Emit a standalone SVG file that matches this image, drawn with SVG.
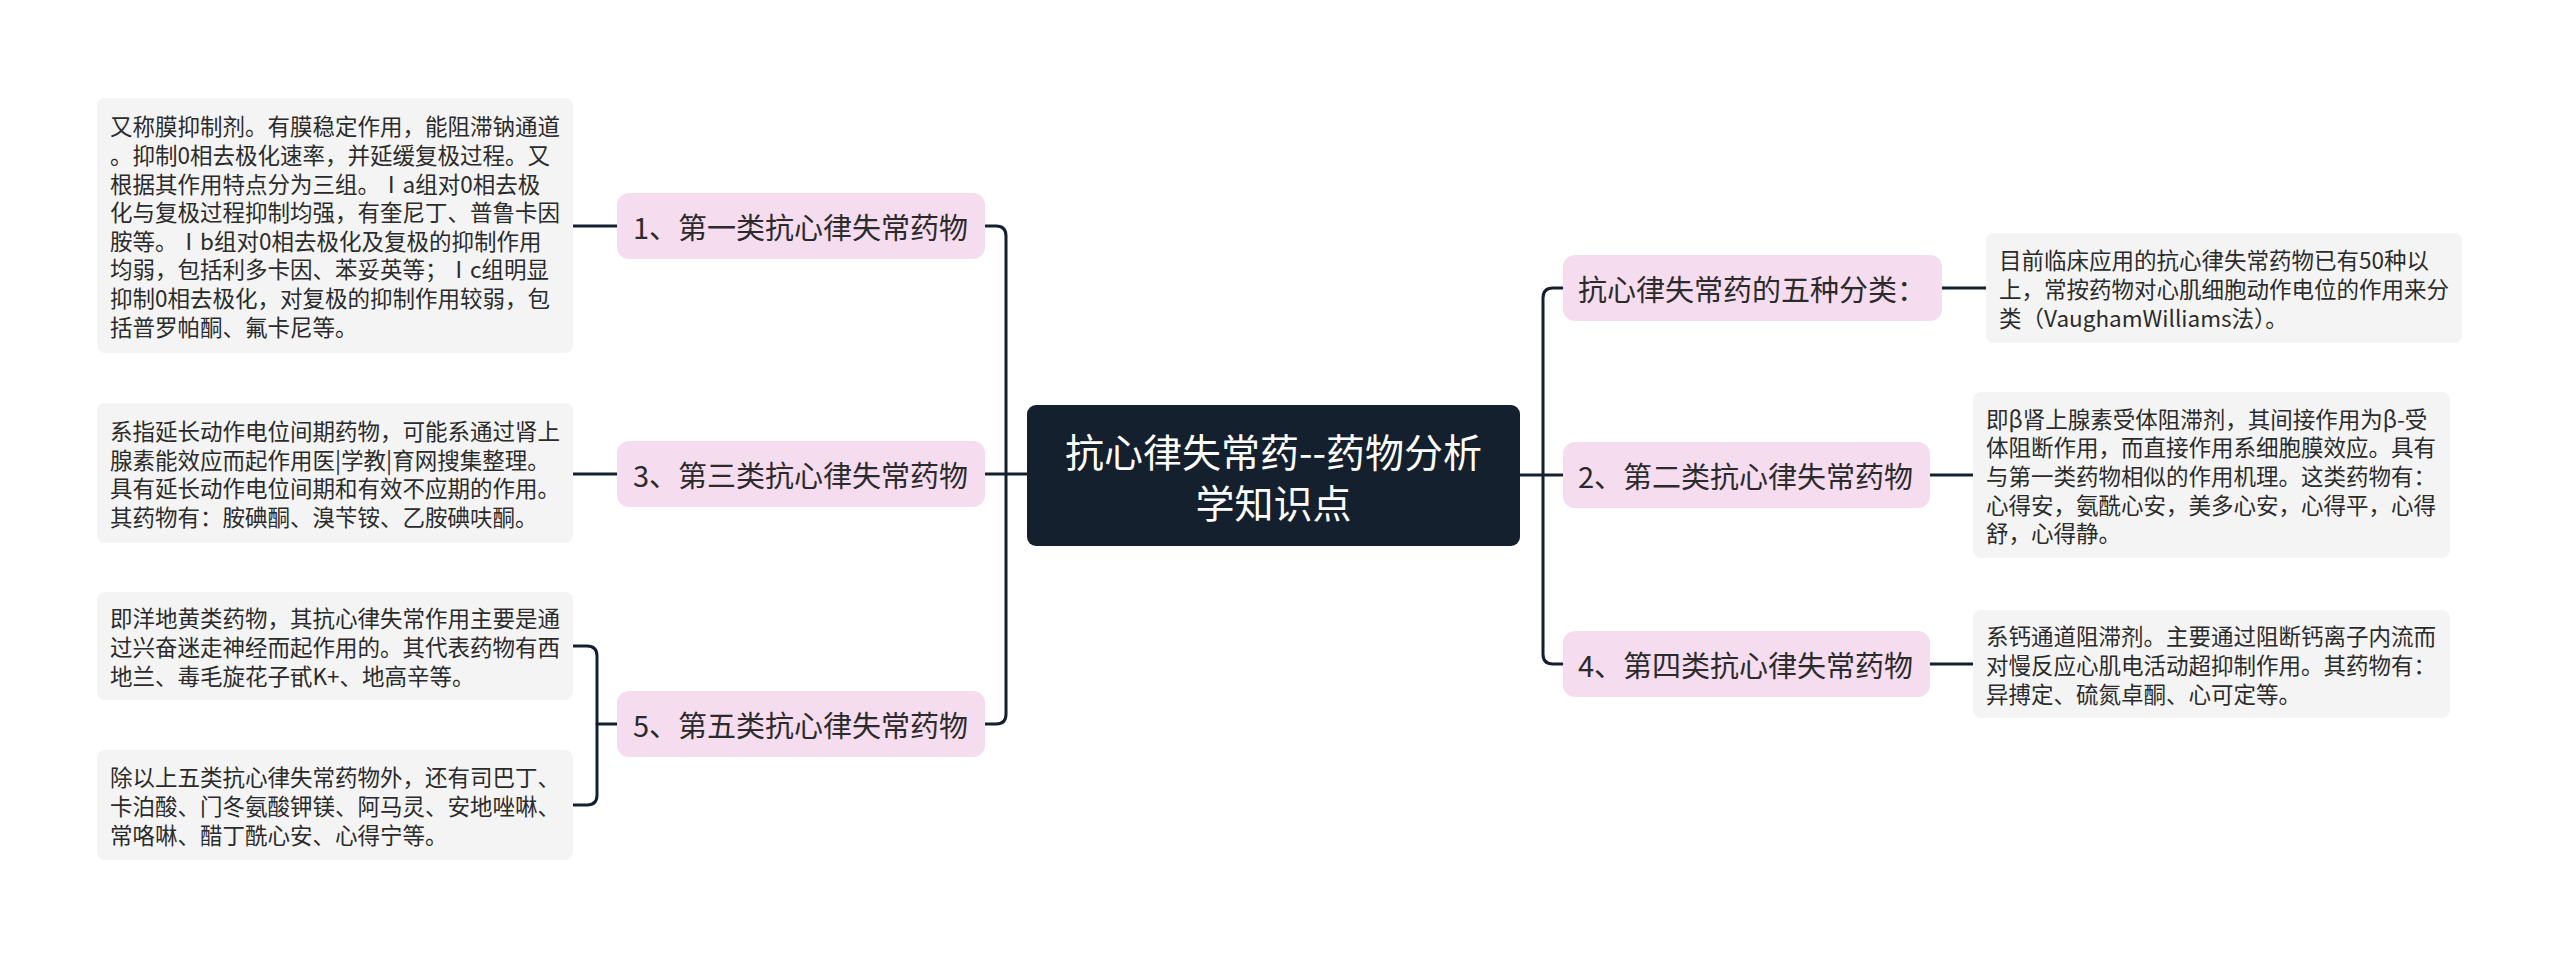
<svg xmlns="http://www.w3.org/2000/svg" width="2560" height="958" viewBox="0 0 2560 958">
<style>
.bg{fill:#ffffff}
.lnk{fill:none;stroke:#15202e;stroke-width:3;stroke-linecap:round}
.root rect{fill:#15202e}
.root text{fill:#ffffff;font-family:"Noto Sans CJK SC","Noto Sans",sans-serif;font-size:39px;text-anchor:middle;dominant-baseline:central}
.topic rect{fill:#f6dcef}
.topic text{fill:#2b2b2b;font-family:"Noto Sans CJK SC","Noto Sans",sans-serif;font-size:29px;dominant-baseline:central}
.leaf rect{fill:#f4f4f4}
.leaf text{fill:#2b2b2b;font-family:"Noto Sans CJK SC","Noto Sans",sans-serif;font-size:22.5px;dominant-baseline:central}
</style>
<rect class="bg" x="0" y="0" width="2560" height="958"/>
<g id="connectors">
<path class="lnk" d="M1027,474 H985"/>
<path class="lnk" d="M985,226 H996 Q1006,226 1006,236 V714 Q1006,724 996,724 H985"/>
<path class="lnk" d="M1520,475 H1563"/>
<path class="lnk" d="M1563,288 H1553 Q1543,288 1543,298 V654 Q1543,664 1553,664 H1563"/>
<path class="lnk" d="M617,226 H573"/>
<path class="lnk" d="M617,474 H573"/>
<path class="lnk" d="M617,724 H597"/>
<path class="lnk" d="M573,646 H587 Q597,646 597,656 V795 Q597,805 587,805 H573"/>
<path class="lnk" d="M1942,288 H1986"/>
<path class="lnk" d="M1930,475 H1973"/>
<path class="lnk" d="M1930,664 H1973"/>
</g>
<g id="root" class="root">
<rect x="1027" y="405" width="493" height="141" rx="9"/>
<text x="1273.5" y="450">抗心律失常药--药物分析</text>
<text x="1273.5" y="501">学知识点</text>
</g>
<g id="t1" class="topic">
<rect x="617" y="193" width="368" height="66" rx="12"/>
<text x="633" y="226">1、第一类抗心律失常药物</text>
</g>
<g id="t3" class="topic">
<rect x="617" y="441" width="368" height="66" rx="12"/>
<text x="633" y="474">3、第三类抗心律失常药物</text>
</g>
<g id="t5" class="topic">
<rect x="617" y="691" width="368" height="66" rx="12"/>
<text x="633" y="724">5、第五类抗心律失常药物</text>
</g>
<g id="t0" class="topic">
<rect x="1563" y="255" width="379" height="66" rx="12"/>
<text x="1578" y="288">抗心律失常药的五种分类：</text>
</g>
<g id="t2" class="topic">
<rect x="1563" y="442" width="367" height="66" rx="12"/>
<text x="1578" y="475">2、第二类抗心律失常药物</text>
</g>
<g id="t4" class="topic">
<rect x="1563" y="631" width="367" height="66" rx="12"/>
<text x="1578" y="664">4、第四类抗心律失常药物</text>
</g>
<g id="leaf1" class="leaf">
<rect x="97" y="98" width="476" height="255" rx="8"/>
<text x="110" y="125.4">又称膜抑制剂。有膜稳定作用，能阻滞钠通道</text>
<text x="110" y="154">。抑制0相去极化速率，并延缓复极过程。又</text>
<text x="110" y="182.6">根据其作用特点分为三组。Ⅰa组对0相去极</text>
<text x="110" y="211.2">化与复极过程抑制均强，有奎尼丁、普鲁卡因</text>
<text x="110" y="239.8">胺等。Ⅰb组对0相去极化及复极的抑制作用</text>
<text x="110" y="268.4">均弱，包括利多卡因、苯妥英等；Ⅰc组明显</text>
<text x="110" y="297">抑制0相去极化，对复极的抑制作用较弱，包</text>
<text x="110" y="325.6">括普罗帕酮、氟卡尼等。</text>
</g>
<g id="leaf3" class="leaf">
<rect x="97" y="403" width="476" height="140" rx="8"/>
<text x="110" y="430">系指延长动作电位间期药物，可能系通过肾上</text>
<text x="110" y="458.6">腺素能效应而起作用医|学教|育网搜集整理。</text>
<text x="110" y="487.2">具有延长动作电位间期和有效不应期的作用。</text>
<text x="110" y="515.8">其药物有：胺碘酮、溴苄铵、乙胺碘呋酮。</text>
</g>
<g id="leaf5a" class="leaf">
<rect x="97" y="592" width="476" height="108" rx="8"/>
<text x="110" y="617.4">即洋地黄类药物，其抗心律失常作用主要是通</text>
<text x="110" y="646">过兴奋迷走神经而起作用的。其代表药物有西</text>
<text x="110" y="674.6">地兰、毒毛旋花子甙K+、地高辛等。</text>
</g>
<g id="leaf5b" class="leaf">
<rect x="97" y="750" width="476" height="110" rx="8"/>
<text x="110" y="776.4">除以上五类抗心律失常药物外，还有司巴丁、</text>
<text x="110" y="805">卡泊酸、门冬氨酸钾镁、阿马灵、安地唑啉、</text>
<text x="110" y="833.6">常咯啉、醋丁酰心安、心得宁等。</text>
</g>
<g id="leafR1" class="leaf">
<rect x="1986" y="233" width="476" height="110" rx="8"/>
<text x="1999" y="259.4">目前临床应用的抗心律失常药物已有50种以</text>
<text x="1999" y="288">上，常按药物对心肌细胞动作电位的作用来分</text>
<text x="1999" y="316.6">类（VaughamWilliams法）。</text>
</g>
<g id="leafR2" class="leaf">
<rect x="1973" y="392" width="477" height="166" rx="8"/>
<text x="1986" y="417.8">即β肾上腺素受体阻滞剂，其间接作用为β-受</text>
<text x="1986" y="446.4">体阻断作用，而直接作用系细胞膜效应。具有</text>
<text x="1986" y="475">与第一类药物相似的作用机理。这类药物有：</text>
<text x="1986" y="503.6">心得安，氨酰心安，美多心安，心得平，心得</text>
<text x="1986" y="532.2">舒，心得静。</text>
</g>
<g id="leafR3" class="leaf">
<rect x="1973" y="610" width="477" height="108" rx="8"/>
<text x="1986" y="635.4">系钙通道阻滞剂。主要通过阻断钙离子内流而</text>
<text x="1986" y="664">对慢反应心肌电活动超抑制作用。其药物有：</text>
<text x="1986" y="692.6">异搏定、硫氮卓酮、心可定等。</text>
</g>
</svg>
